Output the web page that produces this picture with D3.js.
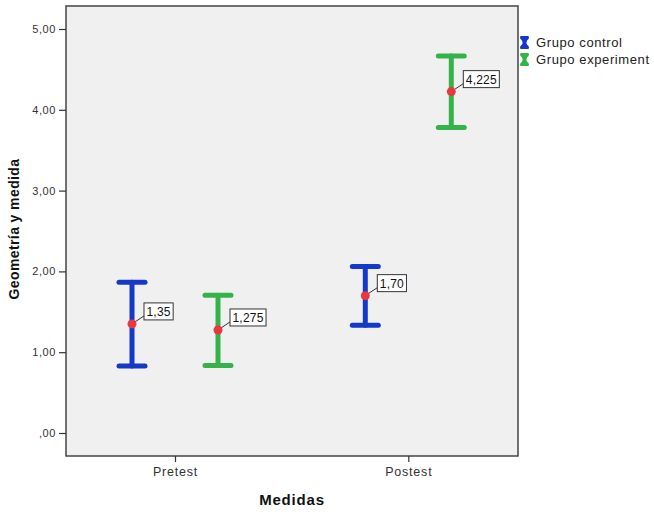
<!DOCTYPE html>
<html><head><meta charset="utf-8">
<script src="https://cdn.jsdelivr.net/npm/d3@7"></script>
<style>
html,body{margin:0;padding:0;background:#fff;}
svg{display:block;font-family:"Liberation Sans",Arial,sans-serif;}
</style></head>
<body><svg id="c" width="654" height="517"></svg>
<script>
const categories = ["Pretest", "Postest"];
const groups = ["Grupo control", "Grupo experiment"];
const groupColors = ["#1438c8", "#35b34a"];
const means = [[1.35, 1.275], [1.70, 4.225]];
const lower = [[0.83, 0.835], [1.335, 3.78]];
const upper = [[1.865, 1.705], [2.06, 4.665]];
const meanLabels = [["1,35", "1,275"], ["1,70", "4,225"]];
const yTicks = [0, 1, 2, 3, 4, 5];
const yTickLabels = [",00", "1,00", "2,00", "3,00", "4,00", "5,00"];

const svg = d3.select("#c");
const L = 66, R = 518, T = 6, B = 456;

const y = d3.scaleLinear().domain([0, 5]).range([433, 29]);
const x = d3.scalePoint().domain(categories).range([175, 408.3]);
const off = d3.scalePoint().domain(groups).range([-43, 43]);

svg.append("rect").attr("x", L).attr("y", T).attr("width", R - L).attr("height", B - T)
  .attr("fill", "#f0f0f0").attr("stroke", "#444").attr("stroke-width", 1.5);

const yAxis = d3.axisLeft(y).tickValues(yTicks).tickFormat((d, i) => yTickLabels[i]).tickSize(7).tickPadding(3);
const gy = svg.append("g").attr("transform", `translate(${L},0)`).call(yAxis);
gy.select(".domain").remove();
gy.selectAll("line").attr("stroke", "#333").attr("stroke-width", 1.2);
gy.selectAll("text").attr("font-size", 11).attr("fill", "#333").attr("letter-spacing", 0.6)
  .style("font-family", "Liberation Sans, Arial, sans-serif");

const xAxis = d3.axisBottom(x).tickSize(6).tickPadding(5);
const gx = svg.append("g").attr("transform", `translate(0,${B})`).call(xAxis);
gx.select(".domain").remove();
gx.selectAll("line").attr("stroke", "#333").attr("stroke-width", 1.2);
gx.selectAll("text").attr("font-size", 12.5).attr("fill", "#333").attr("letter-spacing", 0.8)
  .style("font-family", "Liberation Sans, Arial, sans-serif");

svg.append("text").attr("x", 292).attr("y", 505).attr("text-anchor", "middle")
  .attr("font-size", 15).attr("font-weight", "bold").attr("letter-spacing", 0.8).attr("fill", "#111").text("Medidas");
svg.append("text").attr("transform", "translate(19,229) rotate(-90)").attr("text-anchor", "middle")
  .attr("font-size", 14).attr("font-weight", "bold").attr("letter-spacing", 0.4).attr("fill", "#111").text("Geometría y medida");

const capW = 13;
categories.forEach((c, ci) => {
  groups.forEach((g, gi) => {
    const cx = x(c) + off(g);
    const col = groupColors[gi];
    const eg = svg.append("g").attr("stroke", col).attr("stroke-width", 5).attr("stroke-linecap", "round");
    eg.append("line").attr("x1", cx).attr("x2", cx).attr("y1", y(upper[ci][gi])).attr("y2", y(lower[ci][gi]));
    eg.append("line").attr("x1", cx - capW).attr("x2", cx + capW).attr("y1", y(upper[ci][gi])).attr("y2", y(upper[ci][gi]));
    eg.append("line").attr("x1", cx - capW).attr("x2", cx + capW).attr("y1", y(lower[ci][gi])).attr("y2", y(lower[ci][gi]));
  });
});

categories.forEach((c, ci) => {
  groups.forEach((g, gi) => {
    const cx = x(c) + off(g);
    const cy = y(means[ci][gi]);
    const lbl = meanLabels[ci][gi];
    const bx = cx + 12, bh = 17;
    const by = cy - 21;
    const lgp = svg.append("g");
    const ln = lgp.append("line");
    const rc = lgp.append("rect");
    const t = lgp.append("text").attr("font-size", 12).attr("fill", "#111").attr("letter-spacing", 0.2).text(lbl);
    const w = t.node().getComputedTextLength() + 5;
    ln.attr("x1", cx).attr("y1", cy).attr("x2", bx).attr("y2", by + bh - 4)
      .attr("stroke", "#333").attr("stroke-width", 1);
    rc.attr("x", bx).attr("y", by).attr("width", w).attr("height", bh)
      .attr("fill", "#fff").attr("stroke", "#333").attr("stroke-width", 1);
    t.attr("x", bx + 2.5).attr("y", by + 13);
    svg.append("circle").attr("cx", cx).attr("cy", cy).attr("r", 4.5).attr("fill", "#e8383d");
  });
});

const lg = svg.append("g").attr("transform", "translate(520,36)");
groups.forEach((g, i) => {
  const row = lg.append("g").attr("transform", `translate(0,${i * 17})`);
  row.append("path").attr("d", "M1,0 H8 Q9,0 9,1.5 Q9,3 7,4.5 Q6,6.5 7,8.5 Q9,10 9,11.5 Q9,13 8,13 H1 Q0,13 0,11.5 Q0,10 2,8.5 Q3,6.5 2,4.5 Q0,3 0,1.5 Q0,0 1,0 Z")
    .attr("fill", groupColors[i]);
  row.append("text").attr("x", 16).attr("y", 11).attr("font-size", 13).attr("letter-spacing", 0.6).attr("fill", "#222").text(g);
});
</script></body></html>
